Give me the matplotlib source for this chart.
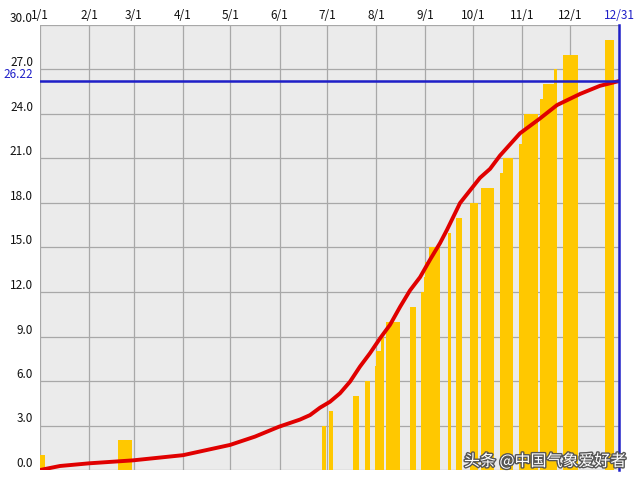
import matplotlib
matplotlib.use('Agg')
import matplotlib.pyplot as plt
import matplotlib.patheffects as pe

# day of year (0 = 1/1) where each bar starts, its length in days, and its height
bar_start = [0, 49, 178, 182, 197, 205, 211, 212, 215, 218, 233, 240, 242, 243, 245,
             257, 262, 271, 278, 290, 292, 302, 304, 305, 315, 317, 324, 330, 356]
bar_days = [3, 9, 2, 3, 4, 3, 1, 3, 2, 9, 4, 2, 1, 2, 7,
            2, 4, 5, 8, 2, 6, 2, 1, 9, 2, 7, 2, 9, 6]
bar_value = [1, 2, 3, 4, 5, 6, 7, 8, 9, 10, 11, 12, 13, 14, 15,
             16, 17, 18, 19, 20, 21, 22, 23, 24, 25, 26, 27, 28, 29]

# climatological cumulative curve
curve_day = [0, 12.6, 30.9, 58.6, 90.2, 119.8, 135.5, 150.7, 163.9, 170.2, 176.5, 182.8,
             189.1, 195.4, 201.7, 208, 214.4, 220.6, 227, 233.2, 239.6, 246, 252.2, 256.6,
             264.8, 277.4, 283.7, 290, 302.6, 315.2, 325.9, 340.4, 353, 365]
curve_value = [0, 0.27, 0.45, 0.65, 1.0, 1.69, 2.25, 2.92, 3.4, 3.7, 4.2, 4.6,
               5.17, 5.95, 6.97, 7.87, 8.88, 9.78, 11.0, 12.1, 13.0, 14.2, 15.3, 16.2,
               18.0, 19.7, 20.3, 21.2, 22.7, 23.7, 24.6, 25.35, 25.9, 26.22]

month_days = [0, 31, 59, 90, 120, 151, 181, 212, 243, 273, 304, 334]
month_labels = ['1/1', '2/1', '3/1', '4/1', '5/1', '6/1', '7/1', '8/1', '9/1', '10/1', '11/1', '12/1']
last_day = 365
last_label = '12/31'
final_value = 26.22
y_ticks = [0, 3, 6, 9, 12, 15, 18, 21, 24, 27, 30]

blue = '#1f1fc8'

plt.rcParams['font.family'] = ['Noto Sans CJK SC', 'DejaVu Sans']

fig = plt.figure(figsize=(6.4, 4.8), dpi=100)
ax = fig.add_axes([40 / 640, 10 / 480, 579 / 640, 445 / 480])
ax.set_facecolor('#ebebeb')

ax.bar(bar_start, bar_value, width=bar_days, align='edge', color='#ffc800',
       linewidth=0, zorder=2)
ax.plot(curve_day, curve_value, color='#e00000', lw=2.8, zorder=3,
        solid_capstyle='round', solid_joinstyle='round')

ax.axhline(final_value, color=blue, lw=1.8, zorder=4)
ax.axvline(last_day, color=blue, lw=1.8, zorder=4, clip_on=False)

ax.set_xlim(0, last_day)
ax.set_ylim(0, 30)

ax.set_xticks(month_days + [last_day])
ax.set_xticklabels(month_labels + [last_label])
ax.xaxis.tick_top()

ax.set_yticks(y_ticks + [final_value])
ax.set_yticklabels([f'{v:.1f}' for v in y_ticks] + [f'{final_value:.2f}'])
for lab in ax.get_yticklabels():
    lab.set_va('bottom')

ax.tick_params(axis='both', length=0, labelsize=8.5, colors='#111111')
ax.tick_params(axis='y', pad=5)
ax.tick_params(axis='x', pad=2)
ax.get_xticklabels()[-1].set_color(blue)
ax.get_yticklabels()[-1].set_color(blue)

ax.grid(True, color='#a8a8a8', lw=0.9, zorder=1)
ax.set_axisbelow(True)
for s in ax.spines.values():
    s.set_visible(False)

ax.text(1.013, 0.0, '头条 @中国气象爱好者', transform=ax.transAxes, ha='right', va='bottom',
        fontsize=11.5, color='white', zorder=6,
        path_effects=[pe.withStroke(linewidth=2, foreground='#555555')])

fig.savefig('out.png', dpi=100)
